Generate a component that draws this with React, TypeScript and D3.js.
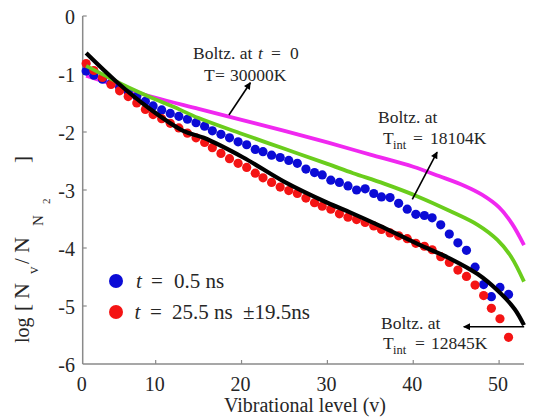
import React from "react";
import * as d3 from "d3";

// ---------- data ----------
const levels = [1.9, 2.8, 3.8, 4.8, 5.8, 6.8, 7.8, 8.8, 9.7, 10.7, 11.7, 12.7, 13.7, 14.7, 15.7, 16.6, 17.6, 18.6, 19.6, 20.6, 21.6, 22.5, 23.5, 24.5, 25.5, 26.5, 27.5, 28.5, 29.4, 30.4, 31.4, 32.4, 33.4, 34.4, 35.4, 36.3, 37.3, 38.3, 39.3, 40.3, 41.3, 42.2, 43.2, 44.2, 45.2, 46.2, 47.2, 48.2, 49.1, 50.1, 51.1];
const blueValues = [-0.95, -1.02, -1.09, -1.16, -1.23, -1.31, -1.39, -1.47, -1.55, -1.62, -1.68, -1.73, -1.78, -1.84, -1.90, -1.98, -2.04, -2.10, -2.17, -2.22, -2.30, -2.34, -2.40, -2.44, -2.49, -2.54, -2.64, -2.70, -2.74, -2.83, -2.87, -2.93, -3.00, -2.98, -3.06, -3.12, -3.13, -3.23, -3.33, -3.42, -3.44, -3.48, -3.60, -3.76, -3.91, -4.04, -4.33, -4.63, -4.84, -4.68, -4.80];
const redValues = [-0.82, -0.94, -1.06, -1.18, -1.29, -1.39, -1.50, -1.61, -1.70, -1.77, -1.85, -1.93, -2.02, -2.10, -2.18, -2.27, -2.37, -2.46, -2.54, -2.61, -2.71, -2.79, -2.87, -2.95, -3.01, -3.06, -3.14, -3.22, -3.28, -3.33, -3.41, -3.47, -3.51, -3.56, -3.62, -3.68, -3.74, -3.79, -3.84, -3.92, -3.97, -4.03, -4.15, -4.25, -4.38, -4.49, -4.64, -4.82, -5.04, -5.22, -5.54];

const magentaLevels = [1.9, 4, 6, 7.5, 10, 15, 20, 25, 30, 35, 40, 43, 46, 48, 50, 51.5, 52.9];
const magentaValues = [-1.03, -1.13, -1.23, -1.30, -1.41, -1.60, -1.79, -1.98, -2.18, -2.39, -2.60, -2.76, -2.93, -3.08, -3.30, -3.58, -3.95];
const greenLevels = [1.9, 4, 6, 8, 10, 12, 15, 20, 25, 30, 33, 36.6, 40.5, 44.4, 47.5, 49.8, 51.4, 52.9];
const greenValues = [-0.86, -1.02, -1.17, -1.31, -1.44, -1.56, -1.76, -2.03, -2.29, -2.55, -2.71, -2.89, -3.11, -3.37, -3.60, -3.86, -4.15, -4.58];
const blackLevels = [1.9, 5.4, 9.3, 13.2, 15.6, 20.2, 25, 30, 32.7, 36, 40.5, 44.4, 47.5, 49.8, 51.8, 52.9];
const blackValues = [-0.64, -1.13, -1.60, -1.98, -2.10, -2.44, -2.86, -3.22, -3.39, -3.61, -3.93, -4.19, -4.45, -4.73, -5.05, -5.33];

const xDomain = [1.5, 52.9];
const yDomain = [0, -6];
const xTickValues = [1.5, 10, 20, 30, 40, 50];
const xTickLabels = ["0", "10", "20", "30", "40", "50"];
const yTickValues = [0, -1, -2, -3, -4, -5, -6];
const yTickLabels = ["0", "-1", "-2", "-3", "-4", "-5", "-6"];

// arrows in data coordinates: [fromLevel, fromValue, toLevel, toValue]
const arrow1 = [18.53, -1.707, 21.03, -1.15];
const arrow2 = [39.89, -3.16, 42.78, -2.345];
const arrow3 = [52.92, -5.357, 45.88, -5.357];

const C_BLUE = "#0b0bd6";
const C_RED = "#f41414";
const C_MAG = "#f028f0";
const C_GREEN = "#6acd1c";
const TEXT = "#262626";
const AXIS = "#8a8a8a";
const FAMILY = '"Times New Roman", Tinos, "Liberation Serif", "Nimbus Roman", FreeSerif';

export default function App() {
  const x = d3.scaleLinear().domain(xDomain).range([82.7, 524]);
  const y = d3.scaleLinear().domain(yDomain).range([16, 364]);

  const line = d3
    .line<[number, number]>()
    .x((d) => x(d[0]))
    .y((d) => y(d[1]))
    .curve(d3.curveCatmullRom.alpha(0.5));

  const pts = (ls: number[], vs: number[]) => ls.map((l, i) => [l, vs[i]] as [number, number]);

  const [x0, x1] = x.range();
  const [yTop, yBot] = y.range();

  const arrow = (a: number[]) => (
    <line x1={x(a[0])} y1={y(a[1])} x2={x(a[2])} y2={y(a[3])} stroke="#000" strokeWidth={1.6} markerEnd="url(#ah)" />
  );

  const t = (key: string, props: any, content: string) => (
    <text key={key} fill={TEXT} fontFamily={FAMILY} style={{ fontFamily: FAMILY }} {...props}>
      {content}
    </text>
  );

  return (
    <svg
      width={534}
      height={418}
      fontFamily={FAMILY}
      style={{ position: "absolute", left: 0, top: 0, background: "#fff", fontFamily: FAMILY }}
    >
      <defs>
        <marker id="ah" viewBox="0 0 10 10" refX="9" refY="5" markerWidth="10" markerHeight="7" markerUnits="userSpaceOnUse" orient="auto">
          <path d="M0,0 L10,5 L0,10 z" fill="#000" />
        </marker>
      </defs>

      {/* axes */}
      <line x1={x0} y1={yBot} x2={x1} y2={yBot} stroke={AXIS} strokeWidth={1.5} />
      <line x1={x0} y1={yTop} x2={x0} y2={yBot} stroke={AXIS} strokeWidth={1.5} />
      {yTickValues.map((v, i) =>
        v > -6 ? <line key={"ytl" + i} x1={x0} x2={x0 + 4} y1={y(v)} y2={y(v)} stroke={AXIS} strokeWidth={1.2} /> : null
      )}
      {yTickValues.map((v, i) => t("yt" + i, { x: 75, y: y(v) + 8, textAnchor: "end", fontSize: 20 }, yTickLabels[i]))}
      {xTickValues.map((v, i) =>
        i > 0 ? <line key={"xtl" + i} x1={x(v)} x2={x(v)} y1={yBot} y2={yBot - 4} stroke={AXIS} strokeWidth={1.2} /> : null
      )}
      {xTickValues.map((v, i) => t("xt" + i, { x: x(v) - 1, y: 391, textAnchor: "middle", fontSize: 20 }, xTickLabels[i]))}
      {t("xl", { x: 305, y: 412, textAnchor: "middle", fontSize: 20 }, "Vibrational level (v)")}

      {/* y label pieces */}
      {t("y1", { transform: "translate(28.5,343) rotate(-90)", fontSize: 20 }, "log")}
      {t("y2", { transform: "translate(28.5,311) rotate(-90)", fontSize: 21 }, "[")}
      {t("y3", { transform: "translate(28.5,299) rotate(-90)", fontSize: 22 }, "N")}
      {t("y4", { transform: "translate(38,274) rotate(-90)", fontSize: 15 }, "v")}
      {t("y5", { transform: "translate(28.5,264) rotate(-90)", fontSize: 21 }, "/")}
      {t("y6", { transform: "translate(28.5,253) rotate(-90)", fontSize: 22 }, "N")}
      {t("y7", { transform: "translate(43,226) rotate(-90)", fontSize: 15 }, "N")}
      {t("y8", { transform: "translate(50,204) rotate(-90)", fontSize: 11 }, "2")}
      {t("y9", { transform: "translate(28.5,163) rotate(-90)", fontSize: 21 }, "]")}

      {/* model lines */}
      <path d={line(pts(magentaLevels, magentaValues)) || ""} fill="none" stroke={C_MAG} strokeWidth={3.8} />

      {/* dots */}
      {levels.map((l, i) => (
        <circle key={"b" + i} cx={x(l)} cy={y(blueValues[i])} r={4.6} fill={C_BLUE} />
      ))}
      {levels.map((l, i) => (
        <circle key={"r" + i} cx={x(l)} cy={y(redValues[i])} r={4.6} fill={C_RED} />
      ))}

      <path d={line(pts(greenLevels, greenValues)) || ""} fill="none" stroke={C_GREEN} strokeWidth={3.8} />
      <path d={line(pts(blackLevels, blackValues)) || ""} fill="none" stroke="#000" strokeWidth={4.2} />

      {/* arrows */}
      {arrow(arrow1)}
      {arrow(arrow2)}
      {arrow(arrow3)}

      {/* annotations */}
      {t("a1", { x: 193, y: 59, fontSize: 17.5 }, "Boltz. at")}
      {t("a2", { x: 258, y: 59, fontSize: 17.5, fontStyle: "italic" }, "t")}
      {t("a3", { x: 271, y: 59, fontSize: 17.5 }, "=")}
      {t("a4", { x: 290, y: 59, fontSize: 17.5 }, "0")}
      {t("a5", { x: 204, y: 81, fontSize: 17.5 }, "T")}
      {t("a6", { x: 215, y: 81, fontSize: 17.5 }, "=")}
      {t("a7", { x: 230, y: 81, fontSize: 17.5 }, "30000K")}

      {t("b1", { x: 378, y: 123, fontSize: 17.5 }, "Boltz. at")}
      {t("b2", { x: 383, y: 144, fontSize: 17.5 }, "T")}
      {t("b3", { x: 393, y: 149, fontSize: 12.5 }, "int")}
      {t("b4", { x: 413, y: 144, fontSize: 17.5 }, "=")}
      {t("b5", { x: 430, y: 144, fontSize: 17.5 }, "18104K")}

      {t("c1", { x: 381, y: 329, fontSize: 17.5 }, "Boltz. at")}
      {t("c2", { x: 383, y: 349, fontSize: 17.5 }, "T")}
      {t("c3", { x: 393, y: 354, fontSize: 12.5 }, "int")}
      {t("c4", { x: 415, y: 349, fontSize: 17.5 }, "=")}
      {t("c5", { x: 431, y: 349, fontSize: 17.5 }, "12845K")}

      {/* legend */}
      <circle cx={116} cy={281} r={7} fill={C_BLUE} />
      <circle cx={116} cy={312} r={7} fill={C_RED} />
      {t("l1", { x: 136, y: 288, fontSize: 21, fontStyle: "italic" }, "t")}
      {t("l2", { x: 151, y: 288, fontSize: 21 }, "=")}
      {t("l3", { x: 174, y: 288, fontSize: 21 }, "0.5 ns")}
      {t("l4", { x: 134.5, y: 319, fontSize: 21, fontStyle: "italic" }, "t")}
      {t("l5", { x: 150, y: 319, fontSize: 21 }, "=")}
      {t("l6", { x: 172, y: 319, fontSize: 21 }, "25.5 ns")}
      {t("l7", { x: 243, y: 319, fontSize: 21 }, "±19.5ns")}
    </svg>
  );
}
